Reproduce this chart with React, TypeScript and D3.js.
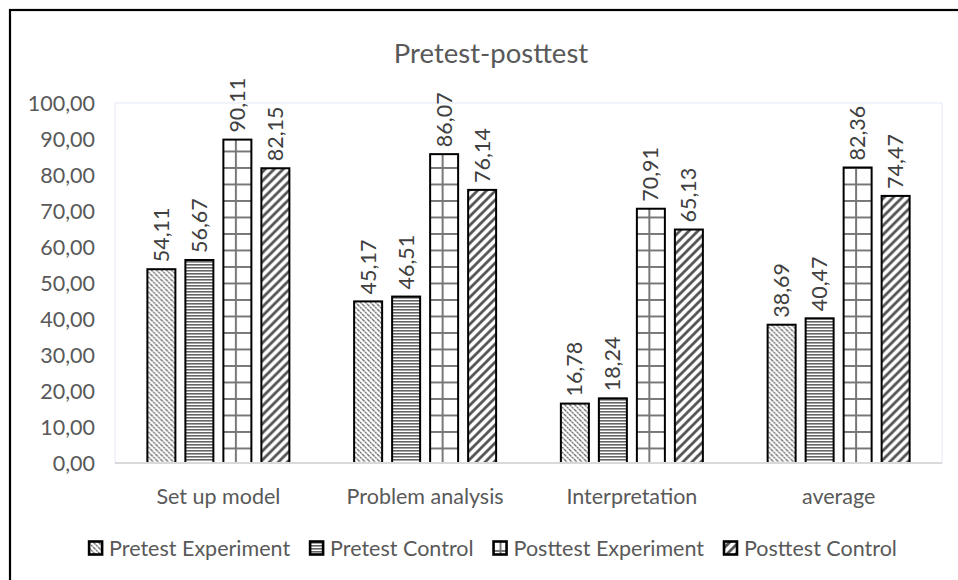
import React, { useEffect, useRef } from "react";
import * as d3 from "d3";

const categories = ["Set up model", "Problem analysis", "Interpretation", "average"];
const seriesNames = ["Pretest Experiment", "Pretest Control", "Posttest Experiment", "Posttest Control"];
const pretestExperiment = [54.11, 45.17, 16.78, 38.69];
const pretestControl = [56.67, 46.51, 18.24, 40.47];
const posttestExperiment = [90.11, 86.07, 70.91, 82.36];
const posttestControl = [82.15, 76.14, 65.13, 74.47];
const yTickValues = [0, 10, 20, 30, 40, 50, 60, 70, 80, 90, 100];
const chartTitle = "Pretest-posttest";

const seriesValues = [pretestExperiment, pretestControl, posttestExperiment, posttestControl];
const patternIds = ["pat-pe", "pat-pc", "pat-pox", "pat-poc"];

const W = 958;
const H = 580;
const FONT = "Lato, 'Open Sans', sans-serif";

const fmt = (v: number) => v.toFixed(2).replace(".", ",");

export default function App() {
  const ref = useRef<SVGSVGElement | null>(null);

  useEffect(() => {
    const svg = d3.select(ref.current);
    svg.selectAll("*").remove();

    const plot = { left: 115, right: 942, top: 103, bottom: 463 };

    const defs = svg.append("defs");
    const p1 = defs.append("pattern").attr("id", patternIds[0]).attr("patternUnits", "userSpaceOnUse")
      .attr("width", 5).attr("height", 5);
    p1.append("rect").attr("width", 5).attr("height", 5).attr("fill", "#fff");
    p1.append("path").attr("d", "M0,0 L5,5 M-1,4 L1,6 M4,-1 L6,1")
      .attr("stroke", "#6e6e6e").attr("stroke-width", 1.3).attr("stroke-dasharray", "2.2,0.6");
    const p2 = defs.append("pattern").attr("id", patternIds[1]).attr("patternUnits", "userSpaceOnUse")
      .attr("width", 6).attr("height", 3);
    p2.append("rect").attr("width", 6).attr("height", 3).attr("fill", "#fff");
    p2.append("rect").attr("y", 0).attr("width", 6).attr("height", 1.6).attr("fill", "#666");
    const p3 = defs.append("pattern").attr("id", patternIds[2]).attr("patternUnits", "userSpaceOnUse")
      .attr("width", 16.5).attr("height", 16.5).attr("x", 6).attr("y", 2);
    p3.append("rect").attr("width", 16.5).attr("height", 16.5).attr("fill", "#fff");
    p3.append("path").attr("d", "M1,0 V16.5 M0,1 H16.5")
      .attr("stroke", "#777").attr("stroke-width", 2);
    const p4 = defs.append("pattern").attr("id", patternIds[3]).attr("patternUnits", "userSpaceOnUse")
      .attr("width", 9).attr("height", 9);
    p4.append("rect").attr("width", 9).attr("height", 9).attr("fill", "#fff");
    p4.append("path").attr("d", "M0,9 L9,0 M-2,2 L2,-2 M7,11 L11,7")
      .attr("stroke", "#555").attr("stroke-width", 2.8);

    svg.append("rect").attr("x", 0).attr("y", 0).attr("width", W).attr("height", H).attr("fill", "#fff");
    svg.append("rect").attr("x", 10).attr("y", 10).attr("width", 1000).attr("height", 700)
      .attr("fill", "none").attr("stroke", "#000").attr("stroke-width", 2.2);

    svg.append("text").attr("x", 491).attr("y", 63).attr("text-anchor", "middle")
      .attr("font-family", FONT).attr("font-size", 27.5).attr("fill", "#595959").text(chartTitle);

    const y = d3.scaleLinear().domain([0, 100]).range([plot.bottom, plot.top]);
    const x0 = d3.scaleBand<string>().domain(categories).range([plot.left, plot.right]).paddingInner(0).paddingOuter(0);
    const groupW = 144;
    const x1 = d3.scaleBand<string>().domain(seriesNames).range([0, groupW]).paddingInner(8 / 38).paddingOuter(0);

    svg.append("rect").attr("x", plot.left).attr("y", plot.top)
      .attr("width", plot.right - plot.left).attr("height", plot.bottom - plot.top)
      .attr("fill", "none").attr("stroke", "#e3e9f5").attr("stroke-width", 1);

    svg.append("g").selectAll("text").data(yTickValues).join("text")
      .attr("x", 95).attr("y", (d) => y(d)).attr("dy", "0.35em").attr("text-anchor", "end")
      .attr("font-family", FONT).attr("font-size", 21.5).attr("fill", "#595959")
      .text((d) => fmt(d));

    const groups = svg.append("g").selectAll("g").data(categories).join("g")
      .attr("transform", (d) => `translate(${(x0(d) as number) + x0.bandwidth() / 2 - groupW / 2},0)`);

    groups.each(function (cat, ci) {
      const g = d3.select(this);
      seriesNames.forEach((s, si) => {
        const v = seriesValues[si][ci];
        const bx = x1(s) as number;
        const bw = x1.bandwidth();
        g.append("rect").attr("x", bx + 1).attr("y", y(v) + 1)
          .attr("width", bw - 2).attr("height", y(0) - y(v) - 1)
          .attr("fill", `url(#${patternIds[si]})`).attr("stroke", "#000").attr("stroke-width", 2);
        const cx = bx + bw / 2;
        const ty = y(v) - 6;
        g.append("text").attr("transform", `translate(${cx},${ty}) rotate(-90)`)
          .attr("dy", "0.35em").attr("text-anchor", "start")
          .attr("font-family", FONT).attr("font-size", 21.5).attr("fill", "#404040")
          .text(fmt(v));
      });
    });

    svg.append("line").attr("x1", plot.left).attr("x2", plot.right).attr("y1", plot.bottom).attr("y2", plot.bottom)
      .attr("stroke", "#d9d9d9").attr("stroke-width", 2);

    svg.append("g").selectAll("text").data(categories).join("text")
      .attr("x", (d) => (x0(d) as number) + x0.bandwidth() / 2).attr("y", 504)
      .attr("text-anchor", "middle").attr("font-family", FONT).attr("font-size", 21.5).attr("fill", "#595959")
      .text((d) => d);

    const legend = svg.append("g");
    const box = 13;
    const gapBoxText = 7;
    const gapItems = 20;
    const items = seriesNames.map((name, i) => {
      const g = legend.append("g");
      g.append("rect").attr("x", 0).attr("y", -box / 2).attr("width", box).attr("height", box)
        .attr("fill", `url(#${patternIds[i]})`).attr("stroke", "#000").attr("stroke-width", 2.6);
      const t = g.append("text").attr("x", box + gapBoxText).attr("y", 0).attr("dy", "0.35em")
        .attr("font-family", FONT).attr("font-size", 21.5).attr("fill", "#595959").text(name);
      const tw = (t.node() as SVGTextElement).getComputedTextLength();
      return { g, w: box + gapBoxText + tw };
    });
    const total = items.reduce((a, b) => a + b.w, 0) + gapItems * (items.length - 1);
    let cx = 493 - total / 2;
    items.forEach((it) => {
      it.g.attr("transform", `translate(${cx},548)`);
      cx += it.w + gapItems;
    });
  }, []);

  return (
    <div style={{ position: "absolute", left: 0, top: 0 }}>
      <svg ref={ref} width={W} height={H} style={{ display: "block" }} />
    </div>
  );
}
